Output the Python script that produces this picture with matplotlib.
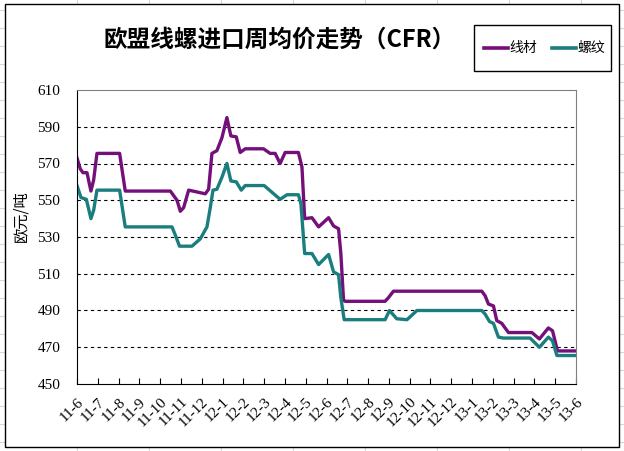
import matplotlib
matplotlib.use("Agg")
import matplotlib.pyplot as plt
from matplotlib.patches import Rectangle
from matplotlib.lines import Line2D

plt.rcParams['font.family'] = ['Noto Sans CJK SC', 'DejaVu Sans']

# x axis labels (year-month), one per tick
month_labels = ['11-6', '11-7', '11-8', '11-9', '11-10', '11-11', '11-12',
                '12-1', '12-2', '12-3', '12-4', '12-5', '12-6', '12-7',
                '12-8', '12-9', '12-10', '12-11', '12-12',
                '13-1', '13-2', '13-3', '13-4', '13-5', '13-6']

# 线材 (wire rod), months since 11-6 and EUR/t
wire_x = [0, 0.16, 0.29, 0.48, 0.67, 0.80, 0.96, 2.05, 2.32, 4.49,
          4.81, 4.97, 5.13, 5.37, 6.17, 6.33, 6.49, 6.73, 6.97, 7.21,
          7.40, 7.66, 7.85, 8.09, 8.97, 9.29, 9.53, 9.77, 10.01, 10.65,
          10.82, 10.95, 11.30, 11.62, 12.10, 12.34, 12.58, 12.69, 12.82, 12.90,
          14.82, 14.98, 15.22, 19.47, 19.63, 19.79, 20.03, 20.19, 20.43, 20.75,
          21.88, 22.24, 22.67, 22.87, 23.11, 24.0]
wire_y = [573, 567, 565, 565, 555, 561, 575.5, 575.5, 555, 555,
          550, 544, 546, 555.5, 553.5, 556, 575.5, 577, 584, 595,
          585, 584.5, 576, 578, 578, 575.5, 575.5, 570, 576, 576,
          568, 540, 540.5, 535.5, 540.5, 536, 534.5, 521, 495.5, 495,
          495, 497, 500.5, 500.5, 498, 493.5, 492.5, 484.5, 483, 478,
          478, 474.5, 480.5, 479, 468, 468]

# 螺纹 (rebar)
rebar_x = [0, 0.19, 0.45, 0.67, 0.80, 0.96, 2.05, 2.32, 4.57, 4.73,
           4.93, 5.53, 5.93, 6.25, 6.41, 6.54, 6.73, 6.97, 7.21, 7.40,
           7.66, 7.90, 8.09, 9.0, 9.77, 10.1, 10.65, 10.77, 10.95, 11.30,
           11.62, 12.10, 12.34, 12.58, 12.69, 12.85, 14.82, 15.03, 15.38, 15.87,
           16.35, 19.47, 19.63, 19.84, 20.03, 20.27, 20.51, 21.79, 22.24, 22.67,
           22.87, 23.08, 24.0]
rebar_y = [558, 551.5, 550.5, 540, 544.5, 555.5, 555.5, 535.5, 535.5, 531,
           525, 525, 529, 535.5, 546, 555.5, 556, 562.5, 570, 560.5,
           560, 555.5, 558, 558, 550.5, 553, 553, 548, 521, 521,
           515, 520.5, 511, 509.5, 497, 485, 485, 490, 485.5, 485,
           490, 490, 488, 484, 483, 475.5, 475, 475, 470, 475.5,
           473.5, 465.5, 465.5]

yticks = list(range(450, 611, 20))

W, H = 624, 451
fig = plt.figure(figsize=(W / 100, H / 100), dpi=100)

# faint spreadsheet cell lines behind the chart
for cx in range(77, W, 72):
    fig.add_artist(Line2D([cx / W, cx / W], [0, 1], color='#d8d8d8', lw=0.8, zorder=0))
for ry in range(10, H, 18):
    fig.add_artist(Line2D([0, 1], [1 - ry / H, 1 - ry / H], color='#d8d8d8', lw=0.8, zorder=0))

# chart area
fig.add_artist(Rectangle((5 / W, 1 - 447 / H), 614 / W, 443 / H,
                         transform=fig.transFigure, facecolor='white',
                         edgecolor='black', lw=1.0, zorder=1))

ax = fig.add_axes([77 / W, 1 - 384 / H, (576 - 77) / W, (384 - 90) / H], zorder=2)

purple = '#74107a'
teal = '#1b7e7e'
ax.plot(wire_x, wire_y, color=purple, lw=2.4, solid_joinstyle='round')
ax.plot(rebar_x, rebar_y, color=teal, lw=2.4, solid_joinstyle='round')

ax.set_xlim(0, 24)
ax.set_ylim(450, 610)
ax.set_yticks(yticks)
ax.set_yticklabels([str(v) for v in yticks], family=['Liberation Serif', 'DejaVu Serif'], fontsize=11)
ax.tick_params(axis='y', length=0, pad=12)

ax.set_xticks(range(len(month_labels)))
ax.set_xticklabels(month_labels, rotation=45, ha='right', va='top', rotation_mode='anchor',
                   family=['Liberation Serif', 'DejaVu Serif'], fontsize=11)
ax.tick_params(axis='x', direction='in', length=4, width=0.8, pad=8)

for v in yticks[1:-1]:
    ax.axhline(v, color='black', lw=0.8, ls=(0, (3, 3)), zorder=0)

for s in ['top', 'right']:
    ax.spines[s].set_color('#808080')
for s in ['left', 'bottom']:
    ax.spines[s].set_color('black')

ax.set_ylabel('欧元/吨', fontsize=11)
ax.yaxis.set_label_coords(-0.095, 0.57)

fig.text(280 / W, 1 - 40 / H, '欧盟线螺进口周均价走势（CFR）', ha='center', va='center',
         fontsize=17, fontweight='bold')

# legend box drawn by hand to match the tall Excel frame
fig.add_artist(Rectangle((474 / W, 1 - 71 / H), 137 / W, 46 / H,
                         transform=fig.transFigure, facecolor='white',
                         edgecolor='black', lw=1.0, zorder=3))
ly = 1 - 48 / H
for x0, col, name in [(484, purple, '线材'), (552, teal, '螺纹')]:
    fig.add_artist(Line2D([x0 / W, (x0 + 24) / W], [ly, ly], color=col, lw=2.6, zorder=4))
    fig.text((x0 + 25) / W, ly, name, ha='left', va='center', fontsize=10, zorder=4)

fig.savefig('out.png', dpi=100)
